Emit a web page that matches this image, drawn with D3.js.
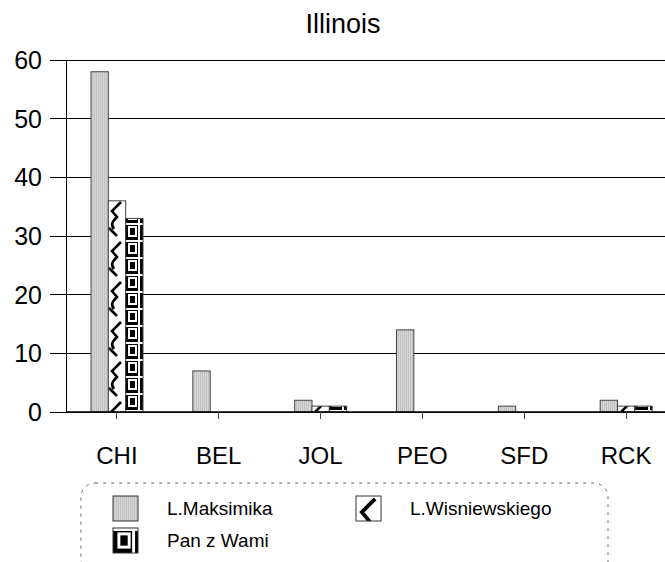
<!DOCTYPE html>
<html><head><meta charset="utf-8">
<script src="https://cdn.jsdelivr.net/npm/d3@7"></script>
<style>body{margin:0;background:#fff}svg{display:block}text{font-family:"Liberation Sans",Arial,sans-serif;fill:#000}</style>
</head><body>
<script>
const title = "Illinois";
const categories = ["CHI","BEL","JOL","PEO","SFD","RCK"];
const seriesNames = ["L.Maksimika","L.Wisniewskiego","Pan z Wami"];
const maksimika = [58,7,2,14,1,2];
const wisniewskiego = [36,0,1,0,0,1];
const panZWami = [33,0,1,0,0,1];
const yTicks = [0,10,20,30,40,50,60];
const seriesValues = [maksimika, wisniewskiego, panZWami];

const W=665,H=562;
const svg=d3.select("body").append("svg").attr("width",W).attr("height",H);
const defs=svg.append("defs");

function makePatterns(suffix, ox, oy, scale){
  const tr = scale!==1 ? `translate(${ox},${oy}) scale(${scale})` : null;
  const p1=defs.append("pattern").attr("id","pat0"+suffix).attr("patternUnits","userSpaceOnUse").attr("width",2).attr("height",2);
  p1.append("rect").attr("width",2).attr("height",2).attr("fill","#c2c2c2");
  p1.append("rect").attr("x",1).attr("width",1).attr("height",2).attr("fill","#d6d6d6");
  const p2=defs.append("pattern").attr("id","pat1"+suffix).attr("patternUnits","userSpaceOnUse").attr("width",17).attr("height",40);
  if(tr) p2.attr("patternTransform",tr); else p2.attr("x",108).attr("y",0);
  p2.append("rect").attr("width",17).attr("height",40).attr("fill","#fff");
  p2.append("path").attr("d","M13,2 L4,11 L9,17 C5,21 2,24 6,29 M1,28 L9,36").attr("fill","none").attr("stroke","#000").attr("stroke-width",2.6);
  const p3=defs.append("pattern").attr("id","pat2"+suffix).attr("patternUnits","userSpaceOnUse").attr("width",17).attr("height",17);
  if(tr) p3.attr("patternTransform",tr); else p3.attr("x",125).attr("y",2);
  p3.append("rect").attr("width",17).attr("height",17).attr("fill","#000");
  p3.append("rect").attr("x",0).attr("y",0).attr("width",17).attr("height",2).attr("fill","#fff");
  p3.append("rect").attr("x",4).attr("y",4).attr("width",7).attr("height",9).attr("fill","none").attr("stroke","#fff").attr("stroke-width",2);
  p3.append("rect").attr("x",13).attr("y",2).attr("width",2).attr("height",15).attr("fill","#fff");
}
makePatterns("",0,0,1);

const x=d3.scaleBand().domain(categories).range([66,677]).padding(0);
const xs=d3.scaleBand().domain(d3.range(3)).range([25,77]).padding(0);
const y=d3.scaleLinear().domain([0,60]).range([412,60]);

svg.append("g").selectAll("line").data(yTicks).join("line")
 .attr("x1",50).attr("x2",W).attr("y1",d=>y(d)).attr("y2",d=>y(d))
 .attr("stroke","#000").attr("stroke-width",1).attr("shape-rendering","crispEdges");
svg.append("g").selectAll("text").data(yTicks).join("text")
 .attr("x",42).attr("y",d=>y(d)+9).attr("text-anchor","end").attr("font-size",25).text(d=>d);
svg.append("line").attr("x1",66).attr("x2",66).attr("y1",y(60)).attr("y2",y(0)).attr("stroke","#000").attr("shape-rendering","crispEdges");

seriesValues.forEach((vals,si)=>{
  const data = vals.map((v,i)=>({c:categories[i],v})).filter(d=>d.v>0);
  svg.append("g").selectAll("rect").data(data).join("rect")
   .attr("x",d=>x(d.c)+xs(si)).attr("width",xs.bandwidth())
   .attr("y",d=>y(d.v)).attr("height",d=>y(0)-y(d.v))
   .attr("fill",`url(#pat${si})`).attr("stroke","#444").attr("stroke-width",1);
});

svg.append("line").attr("x1",66).attr("x2",W).attr("y1",y(0)).attr("y2",y(0)).attr("stroke","#000").attr("stroke-width",1.5);
svg.append("g").selectAll("line").data(categories).join("line")
 .attr("x1",d=>x(d)+x.bandwidth()/2).attr("x2",d=>x(d)+x.bandwidth()/2)
 .attr("y1",y(0)).attr("y2",y(0)+7).attr("stroke","#444").attr("shape-rendering","crispEdges");
svg.append("g").selectAll("text").data(categories).join("text")
 .attr("x",d=>x(d)+x.bandwidth()/2).attr("y",464).attr("text-anchor","middle").attr("font-size",24).text(d=>d);

svg.append("text").attr("x",343).attr("y",33).attr("text-anchor","middle").attr("font-size",27).text(title);

svg.append("rect").attr("x",81).attr("y",483).attr("width",527).attr("height",110).attr("rx",14)
 .attr("fill","none").attr("stroke","#666").attr("stroke-dasharray","3,5");
const legPos=[[113,496],[356,496],[113,528]];
seriesNames.forEach((n,i)=>{
  const [lx,ly]=legPos[i];
  makePatterns("L"+i, lx, ly, 25/17);
  svg.append("rect").attr("x",lx).attr("y",ly).attr("width",25).attr("height",25)
   .attr("fill",`url(#pat${i}L${i})`).attr("stroke","#333");
  svg.append("text").attr("x",lx+54).attr("y",ly+19).attr("font-size",19).text(n);
});
</script>
</body></html>
